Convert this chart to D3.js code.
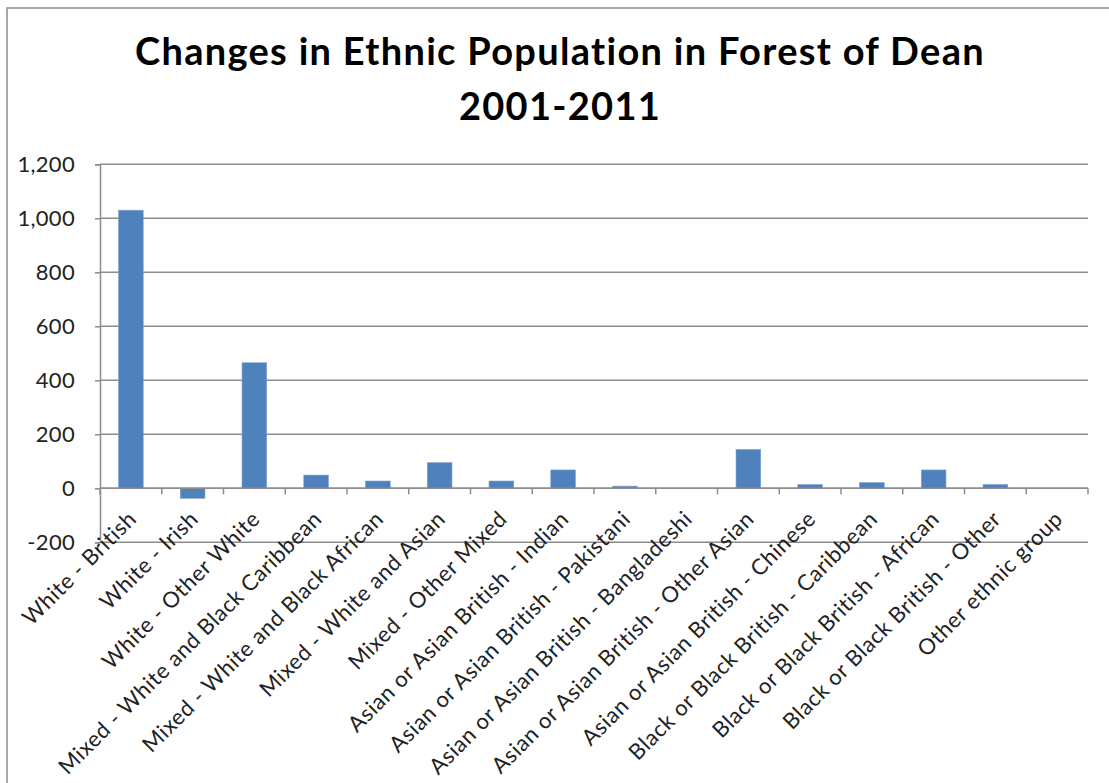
<!DOCTYPE html>
<html>
<head>
<meta charset="utf-8">
<script src="https://cdn.jsdelivr.net/npm/d3@7"></script>
<style>
  html, body { margin: 0; padding: 0; background: #fff; }
  svg { display: block; }
</style>
</head>
<body>
<svg id="chart" width="1109" height="783"></svg>
<script>
const categories = [
  "White - British",
  "White - Irish",
  "White - Other White",
  "Mixed - White and Black Caribbean",
  "Mixed - White and Black African",
  "Mixed - White and Asian",
  "Mixed - Other Mixed",
  "Asian or Asian British - Indian",
  "Asian or Asian British - Pakistani",
  "Asian or Asian British - Bangladeshi",
  "Asian or Asian British - Other Asian",
  "Asian or Asian British - Chinese",
  "Black or Black British - Caribbean",
  "Black or Black British - African",
  "Black or Black British - Other",
  "Other ethnic group"
];
const values = [1030, -37, 465, 49, 27, 95, 27, 68, 8, 0, 144, 14, 21, 68, 14, 0];
const yTicks = [-200, 0, 200, 400, 600, 800, 1000, 1200];
const titleLines = ["Changes in Ethnic Population in Forest of Dean", "2001-2011"];

(function () {
const svg = d3.select("#chart");
const font = "Lato, 'Open Sans', sans-serif";
const gridColor = "#8c8c8c";

// outer chart border (left and top visible)
svg.append("rect")
  .attr("x", 7).attr("y", 8)
  .attr("width", 1200).attr("height", 900)
  .attr("fill", "none").attr("stroke", gridColor).attr("stroke-width", 1.5);

const pLeft = 100, pRight = 1088, pTop = 164.3, pBottom = 542.3;

const x = d3.scaleBand().domain(categories).range([pLeft, pRight]).paddingInner(0.6).paddingOuter(0.3);
const xb = d3.scaleBand().domain(categories).range([pLeft, pRight]);
const y = d3.scaleLinear().domain([-200, 1200]).range([pBottom, pTop]);

// gridlines
svg.append("g").selectAll("line").data(yTicks).join("line")
  .attr("x1", pLeft).attr("x2", pRight)
  .attr("y1", d => y(d)).attr("y2", d => y(d))
  .attr("stroke", gridColor).attr("stroke-width", 1.5);

// y axis
const locale = d3.formatLocale({decimal: ".", thousands: ",", grouping: [3], currency: ["", ""], minus: "-"});
const yAxis = svg.append("g")
  .attr("transform", `translate(${pLeft},0)`)
  .call(d3.axisLeft(y).tickValues(yTicks).tickSize(5).tickPadding(20)
    .tickFormat(locale.format(",")));
yAxis.select(".domain").attr("stroke", gridColor).attr("stroke-width", 1.5);
yAxis.selectAll(".tick line").attr("stroke", gridColor).attr("stroke-width", 1.5);
yAxis.selectAll(".tick text")
  .attr("font-family", font).attr("font-size", 22).attr("letter-spacing", 0.3).attr("fill", "#222");

// bars
svg.append("g").selectAll("rect").data(values).join("rect")
  .attr("x", (d, i) => x(categories[i]))
  .attr("width", x.bandwidth())
  .attr("y", d => y(Math.max(0, d)))
  .attr("height", d => Math.abs(y(d) - y(0)))
  .attr("fill", "#4f81bd")
  .attr("stroke", "#7fa2d0").attr("stroke-width", 0.6);

// x axis at zero with ticks at band boundaries
const y0 = y(0);
svg.append("line")
  .attr("x1", pLeft).attr("x2", pRight)
  .attr("y1", y0).attr("y2", y0)
  .attr("stroke", gridColor).attr("stroke-width", 1.5);
const bounds = categories.map(c => xb(c)).concat([pRight]);
svg.append("g").selectAll("line").data(bounds).join("line")
  .attr("x1", d => d).attr("x2", d => d)
  .attr("y1", y0).attr("y2", y0 + 6)
  .attr("stroke", gridColor).attr("stroke-width", 1.5);

// category labels rotated -45
svg.append("g").selectAll("text").data(categories).join("text")
  .attr("transform", d => `translate(${xb(d) + xb.bandwidth() / 2 + 7},${y0 + 32}) rotate(-45)`)
  .attr("text-anchor", "end")
  .attr("font-family", font).attr("font-size", 22).attr("letter-spacing", 0.6).attr("fill", "#222")
  .text(d => d);

// title
const tFont = 38, tSpacing = 1.3;
svg.append("text")
  .attr("x", 560).attr("y", 65)
  .attr("text-anchor", "middle")
  .attr("font-family", font).attr("font-weight", "bold").attr("font-size", tFont)
  .attr("letter-spacing", tSpacing)
  .attr("fill", "#000")
  .text(titleLines[0]);
svg.append("text")
  .attr("x", 560).attr("y", 120)
  .attr("text-anchor", "middle")
  .attr("font-family", font).attr("font-weight", "bold").attr("font-size", tFont)
  .attr("letter-spacing", tSpacing)
  .attr("fill", "#000")
  .text(titleLines[1]);
})();
</script>
</body>
</html>
